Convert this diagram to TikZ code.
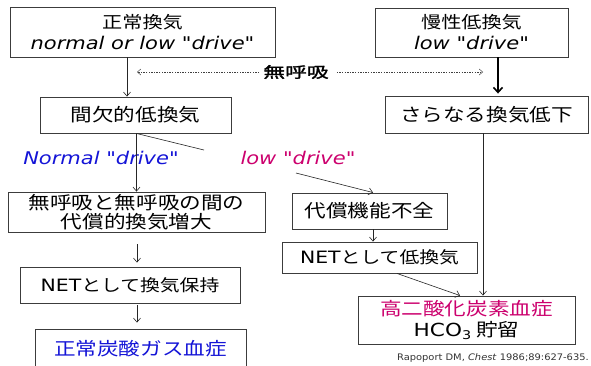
\documentclass[tikz,border=0pt]{standalone}
\usepackage{fontspec}
\setmainfont{DejaVu Sans}[FakeStretch=1.2]
\newfontfamily\cjk{Noto Sans CJK JP}[FakeStretch=1.2]
\newfontfamily\cjkb{Noto Sans CJK JP}[FakeStretch=1.45,FakeBold=2]
\newfontfamily\lat{DejaVu Sans}[FakeStretch=1.2]
\newfontfamily\latc{DejaVu Sans}[FakeStretch=1.1]
\usetikzlibrary{arrows.meta}
\definecolor{jblue}{RGB}{20,20,215}
\definecolor{jmag}{RGB}{204,0,110}
\definecolor{boxgray}{RGB}{60,60,60}
\begin{document}
\begin{tikzpicture}[x=1pt,y=-1pt,
  box/.style={draw=boxgray, line width=0.9pt, inner sep=0pt, align=center},
  jp/.style={font=\cjk\fontsize{18}{19}\selectfont},
  jpsmall/.style={font=\cjk\fontsize{16.5}{19}\selectfont},
  lab/.style={font=\lat\itshape\fontsize{17.5}{20}\selectfont, inner sep=0pt},
  arr/.style={-{Straight Barb[length=4pt,width=7pt]}, line width=0.6pt, draw=black!85},
  thk/.style={-{Straight Barb[length=5pt,width=9pt,line width=1.6pt]}, line width=2pt, draw=black},
  dsh/.style={-{Straight Barb[length=3.5pt,width=6pt]}, line width=0.45pt, draw=black!75, dash pattern=on 1.4pt off 1.2pt},
  ln/.style={line width=0.6pt, draw=black!85}]
\fill[white] (0,0) rectangle (591,365);
\clip (0,0) rectangle (591,365);

% boxes
\node[box, minimum width=265pt, minimum height=50pt, font=\lat\fontsize{17.5}{21}\selectfont] (B1) at (142.5,32)
  {{\cjk\fontsize{16.8}{21}\selectfont 正常換気}\\ \textit{normal or low "drive"}};
\node[box, minimum width=193pt, minimum height=49pt, font=\lat\fontsize{17.5}{21}\selectfont] (B2) at (471.5,32.5)
  {{\cjk\fontsize{16.8}{21}\selectfont 慢性低換気}\\ \textit{low "drive"}};
\node[box, jp, minimum width=191pt, minimum height=36pt] (B3) at (135.5,115) {間欠的低換気};
\node[box, jp, minimum width=203pt, minimum height=37pt] (B4) at (486.5,114.5) {さらなる換気低下};
\node[box, jp, minimum width=257pt, minimum height=40pt] (B5) at (136.5,212) {無呼吸と無呼吸の間の\\代償的換気増大};
\node[box, jp, minimum width=155pt, minimum height=36pt] (B6) at (369.5,211) {代償機能不全};
\node[box, jpsmall, minimum width=195pt, minimum height=31pt] (B7) at (379.5,257.5) {{\lat\fontsize{17}{19}\selectfont NET}として低換気};
\node[box, jpsmall, minimum width=220pt, minimum height=36pt] (B8) at (130,285) {{\lat\fontsize{17}{19}\selectfont NET}として換気保持};
\node[box, jp, minimum width=211pt, minimum height=40pt, text=jblue] (B9) at (140.5,349) {正常炭酸ガス血症};
\node[box, jp, minimum width=217pt, minimum height=48pt, font=\cjk\fontsize{18}{21}\selectfont] (B10) at (466.5,320)
  {\textcolor{jmag}{高二酸化炭素血症}\\{\lat HCO\raisebox{-0.35ex}{\fontsize{12}{12}\selectfont 3}} 貯留};

% labels
\node[font=\cjkb\fontsize{15}{16}\selectfont, inner sep=0pt] (ap) at (296,72) {無呼吸};
\node[lab, text=jblue] (nd) at (101,158) {Normal "drive"};
\node[lab, text=jmag] (ld) at (298,158) {low "drive"};
\node[font=\latc\fontsize{9}{11}\selectfont, text=black!80, inner sep=0pt, anchor=east] (cit) at (589,358) {Rapoport DM, \textit{Chest} 1986;89:627-635.};

% helper coordinates
\coordinate (c1) at (127,0);
\coordinate (c2) at (498,0);
\coordinate (c3) at (136.5,0);
\coordinate (c4) at (373,0);
\coordinate (c5) at (137,0);
\coordinate (c6) at (483,0);
\coordinate (c7) at (397,0);
\coordinate (c8) at (460,0);
\coordinate (dl) at (137,72);
\coordinate (dr) at (483,72);
\coordinate (d1) at (204,150);
\coordinate (d2) at (296,173);

% connectors
\draw[arr] (B1.south -| c1) -- (B3.north -| c1);
\draw[dsh] ([xshift=-4pt]ap.west) -- (dl);
\draw[dsh] ([xshift=8pt]ap.east) -- (dr);
\draw[thk] (B2.south -| c2) -- ([yshift=2pt]B4.north -| c2);
\draw[arr] (B3.south -| c3) -- (B5.north -| c3);
\draw[ln] (B3.south -| c3) -- (d1);
\draw[arr] (d2) -- (B6.north -| c4);
\draw[arr] (B6.south -| c4) -- (B7.north -| c4);
\draw[arr, shorten <=12pt, shorten >=4pt] (B5.south -| c5) -- (B8.north -| c5);
\draw[arr, shorten <=2pt, shorten >=6pt] (B8.south -| c5) -- (B9.north -| c5);
\draw[arr] (B4.south -| c6) -- (B10.north -| c6);
\draw[arr] (B7.south -| c7) -- (B10.north -| c8);
\end{tikzpicture}
\end{document}
